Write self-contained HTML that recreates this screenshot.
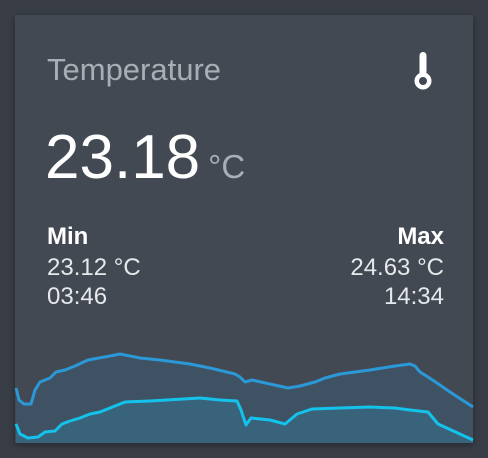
<!DOCTYPE html>
<html><head><meta charset="utf-8"><style>
html,body{margin:0;padding:0;background:#393d45;width:488px;height:458px;overflow:hidden;font-family:"Liberation Sans",sans-serif}
.card{position:absolute;left:15px;top:15px;width:458px;height:428px;background:#434953;box-shadow:0 2px 6px rgba(0,0,0,.35);overflow:hidden}
.t{position:absolute;white-space:nowrap;line-height:1}
</style></head><body>
<div class="card">
<div class="t" style="left:32px;top:39px;font-size:31px;color:#a9aeb6">Temperature</div>
<svg style="position:absolute;left:397px;top:36px" width="22" height="42" viewBox="0 0 22 42"><rect x="7.5" y="1" width="7" height="28" rx="3.5" fill="#fff"/><circle cx="11" cy="30" r="8.5" fill="#fff"/><circle cx="11" cy="30" r="4" fill="#434953"/></svg>
<div class="t" style="left:30px;top:112px;font-size:62px;color:#fff">23.18<span style="font-size:33px;color:#a9aeb6;margin-left:8px">°C</span></div>
<div class="t" style="left:32px;top:210px;font-size:24px;color:#fff;font-weight:bold">Min</div>
<div class="t" style="left:32px;top:241px;font-size:24px;color:#e6e8eb">23.12 °C</div>
<div class="t" style="left:32px;top:270px;font-size:24px;color:#e6e8eb">03:46</div>
<div class="t" style="right:29px;top:210px;font-size:24px;color:#fff;font-weight:bold">Max</div>
<div class="t" style="right:29px;top:241px;font-size:24px;color:#e6e8eb">24.63 °C</div>
<div class="t" style="right:29px;top:270px;font-size:24px;color:#e6e8eb">14:34</div>
</div>
<svg id="chart" style="position:absolute;left:0;top:0" width="488" height="458"></svg>
<script>
const upperX=[0,3,8,15,19,24,34,40,49,59,72,94,104,124,144,174,194,219,224,229,236,254,272,284,299,309,324,354,379,394,399,404,412,421,434,457];
const upperV=[5.5,4.3,3.9,3.9,5.3,6.1,6.5,7.1,7.3,7.7,8.3,8.7,8.9,8.5,8.3,7.9,7.5,6.9,6.6,6.1,6.3,5.9,5.5,5.7,6.1,6.5,6.9,7.3,7.7,7.9,7.7,7.1,6.6,6.0,5.1,3.6];
const lowerX=[0,4,12,22,29,39,46,54,64,74,84,94,109,134,184,204,221,225,230,235,254,269,281,296,324,354,379,394,412,422,457];
const lowerV=[1.9,0.9,0.5,0.6,1.1,1.2,1.9,2.2,2.5,2.9,3.1,3.5,4.1,4.2,4.5,4.3,4.2,3.3,1.8,2.5,2.3,1.9,2.9,3.4,3.5,3.6,3.5,3.3,3.1,1.9,0.3];
const x0=16,y0=443,sx=1,sy=10;
const X=v=>x0+v*sx, Y=v=>y0-v*sy;
const svg=document.getElementById('chart');
const NS='http://www.w3.org/2000/svg';
function draw(xs,vs,fill,stroke,name){
  let pts=xs.map((x,i)=>X(x).toFixed(1)+','+Y(vs[i]).toFixed(1));
  const a=document.createElementNS(NS,'path');
  
  
  a.setAttribute('d','M'+X(xs[0])+','+y0+' L'+pts.join(' L')+' L'+X(xs[xs.length-1])+','+y0+'Z');
  a.setAttribute('fill',fill);
  svg.appendChild(a);
  const l=document.createElementNS(NS,'path');
  
  
  l.setAttribute('d','M'+pts.join(' L'));
  l.setAttribute('fill','none');l.setAttribute('stroke',stroke);l.setAttribute('stroke-width','3');l.setAttribute('stroke-linejoin','round');
  svg.appendChild(l);
}
draw(upperX,upperV,'#3f5263','#2b98d8','max-series');
draw(lowerX,lowerV,'#38637a','#13c3ec','min-series');
</script>
</body></html>
